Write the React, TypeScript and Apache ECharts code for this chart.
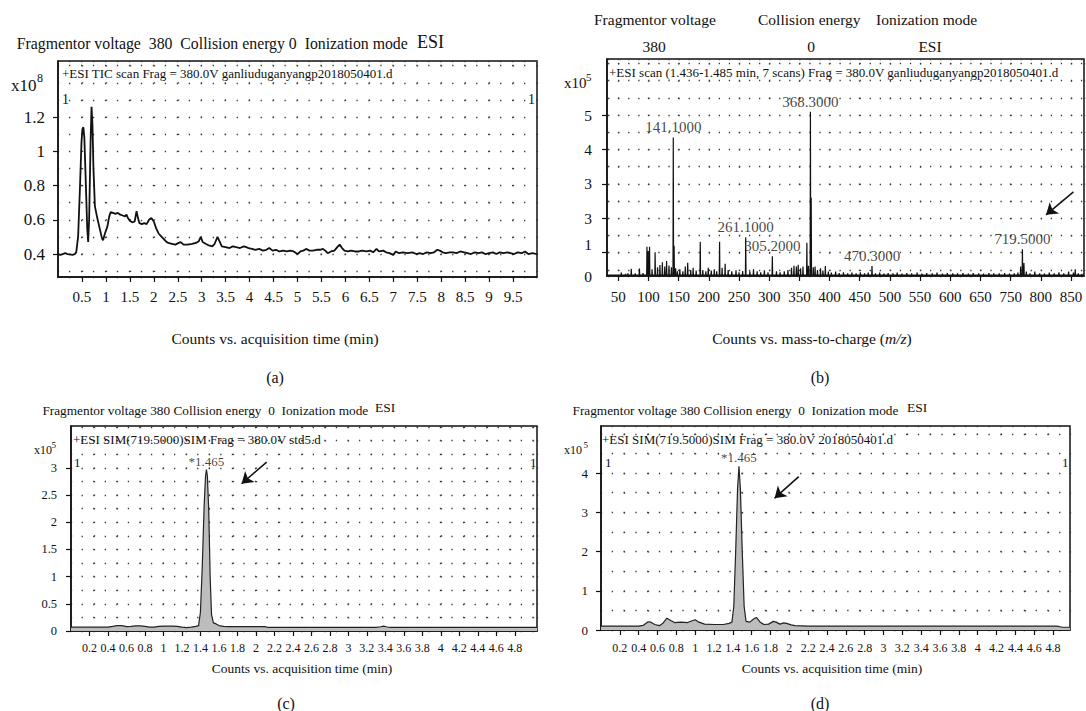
import React, { useEffect, useRef } from "react";
import * as echarts from "echarts";

const SERIF = '"Liberation Serif", "Times New Roman", serif';
const INK = "#111111";
const DOT = 1.3;
const DOT_COLOR = "#3a3a3a";

// ---------- (a) TIC chromatogram: [time (min), counts x10^8] ----------
const ticTrace = [
  [0, 0.4], [0.05, 0.395], [0.1, 0.4], [0.15, 0.405], [0.2, 0.4], [0.25, 0.398], [0.3, 0.395], [0.35, 0.4],
  [0.38, 0.41], [0.42, 0.5], [0.46, 0.8], [0.49, 1.05], [0.51, 1.13], [0.53, 1.14], [0.55, 1.08], [0.58, 0.82],
  [0.61, 0.55], [0.63, 0.47], [0.65, 0.6], [0.68, 1.05], [0.7, 1.26], [0.72, 1.15], [0.74, 0.9], [0.77, 0.68],
  [0.82, 0.61], [0.87, 0.55], [0.92, 0.49], [0.94, 0.48], [0.98, 0.52], [1.03, 0.56], [1.07, 0.62], [1.1, 0.645],
  [1.15, 0.64], [1.2, 0.635], [1.25, 0.64], [1.3, 0.63], [1.35, 0.625], [1.4, 0.62], [1.43, 0.63], [1.46, 0.61],
  [1.5, 0.595], [1.55, 0.585], [1.6, 0.59], [1.64, 0.65], [1.67, 0.61], [1.7, 0.58], [1.75, 0.575], [1.8, 0.58],
  [1.85, 0.575], [1.9, 0.6], [1.95, 0.61], [2, 0.59], [2.05, 0.55], [2.1, 0.52], [2.15, 0.505], [2.2, 0.49],
  [2.25, 0.475], [2.3, 0.465], [2.38, 0.46], [2.45, 0.455], [2.52, 0.465], [2.56, 0.47], [2.62, 0.455], [2.7, 0.455],
  [2.8, 0.46], [2.88, 0.465], [2.94, 0.475], [2.98, 0.5], [3.02, 0.47], [3.08, 0.46], [3.15, 0.45], [3.22, 0.445],
  [3.27, 0.46], [3.33, 0.5], [3.38, 0.47], [3.42, 0.445], [3.5, 0.44], [3.58, 0.435], [3.65, 0.445], [3.72, 0.44],
  [3.8, 0.435], [3.88, 0.445], [3.93, 0.44], [3.98, 0.435], [4.05, 0.43], [4.12, 0.425], [4.2, 0.43], [4.28, 0.42],
  [4.35, 0.425], [4.41, 0.435], [4.48, 0.42], [4.55, 0.425], [4.62, 0.415], [4.7, 0.42], [4.78, 0.415], [4.85, 0.42],
  [4.92, 0.415], [5, 0.4], [5.06, 0.415], [5.12, 0.42], [5.18, 0.43], [5.25, 0.42], [5.32, 0.42], [5.4, 0.425],
  [5.47, 0.425], [5.53, 0.43], [5.58, 0.42], [5.63, 0.405], [5.7, 0.415], [5.77, 0.42], [5.83, 0.44], [5.88, 0.455],
  [5.93, 0.435], [5.98, 0.42], [6.05, 0.415], [6.12, 0.42], [6.2, 0.415], [6.28, 0.415], [6.35, 0.42], [6.44, 0.415],
  [6.52, 0.42], [6.58, 0.41], [6.65, 0.43], [6.7, 0.415], [6.79, 0.42], [6.85, 0.41], [6.92, 0.405], [7, 0.395],
  [7.05, 0.415], [7.12, 0.405], [7.2, 0.41], [7.3, 0.405], [7.4, 0.41], [7.48, 0.4], [7.55, 0.405], [7.62, 0.4],
  [7.7, 0.41], [7.78, 0.405], [7.85, 0.41], [7.92, 0.425], [7.97, 0.42], [8.03, 0.41], [8.1, 0.405], [8.18, 0.41],
  [8.25, 0.41], [8.32, 0.405], [8.4, 0.415], [8.48, 0.41], [8.55, 0.405], [8.62, 0.4], [8.7, 0.41], [8.78, 0.405],
  [8.85, 0.41], [8.92, 0.4], [9, 0.405], [9.08, 0.41], [9.15, 0.4], [9.22, 0.41], [9.3, 0.405], [9.38, 0.41],
  [9.45, 0.405], [9.52, 0.4], [9.6, 0.41], [9.68, 0.405], [9.75, 0.415], [9.82, 0.4], [9.9, 0.405], [10, 0.4],
];

// ---------- (b) mass spectrum: [m/z, counts x10^5 on the printed scale] ----------
const specPeaks = [
  [55, 0.42], [62, 0.38], [66, 0.4], [71.5, 0.53], [78, 0.4], [85, 0.54], [91, 0.41], [97.5, 1.17], [99.5, 1.05],
  [101.8, 1.17], [106, 0.52], [111, 1.01], [115, 0.58], [119, 0.64], [123, 0.72], [127, 0.6], [130, 0.76], [134, 0.63],
  [138, 0.58], [141.1, 4.35], [142.5, 1.2], [145, 0.55], [148, 0.46], [152, 0.52], [157, 0.46], [161, 0.6], [165, 0.71],
  [170, 0.5], [174, 0.56], [179, 0.48], [185.8, 1.32], [190, 0.5], [195, 0.46], [199, 0.56], [204, 0.48], [209, 0.52],
  [213, 0.46], [217.8, 1.32], [222, 0.56], [227, 0.68], [232, 0.5], [238, 0.46], [245, 0.49], [250, 0.43], [256, 0.47],
  [261.1, 1.45], [268, 0.46], [274, 0.52], [280, 0.46], [286, 0.43], [292, 0.49], [298, 0.43], [305.2, 0.9], [312, 0.46],
  [318, 0.43], [325, 0.46], [331, 0.5], [337, 0.56], [341, 0.62], [345, 0.6], [348, 0.65], [352, 0.55], [356, 0.6],
  [362.4, 1.29], [365, 0.62], [368.3, 5.1], [369.6, 2.6], [373, 0.58], [376, 0.6], [380, 0.5], [385, 0.55], [389, 0.48],
  [393, 0.61], [398, 0.45], [403, 0.42], [410, 0.45], [416, 0.41], [423, 0.43], [430, 0.4], [437, 0.42], [444, 0.4],
  [451, 0.43], [458, 0.4], [464, 0.42], [470.3, 0.61], [476, 0.4], [483, 0.42], [490, 0.39], [497, 0.41], [505, 0.4],
  [512, 0.42], [520, 0.39], [528, 0.41], [536, 0.4], [545, 0.42], [553, 0.39], [561, 0.41], [570, 0.4], [578, 0.42],
  [587, 0.39], [595, 0.41], [604, 0.4], [612, 0.4], [621, 0.41], [630, 0.39], [638, 0.41], [647, 0.4], [655, 0.39],
  [664, 0.41], [672, 0.4], [681, 0.4], [690, 0.41], [698, 0.39], [706, 0.4], [712, 0.42], [716.5, 0.6], [719.5, 1.1],
  [722, 0.7], [726, 0.45], [732, 0.4], [740, 0.45], [748, 0.4], [756, 0.39], [764, 0.42], [772, 0.4], [780, 0.43],
  [788, 0.4], [796, 0.45], [804, 0.42], [807, 0.52], [812, 0.4], [818, 0.38],
];
const specBaseline = 0.35;
const labelledMz = [141.1, 261.1, 305.2, 368.3, 470.3, 719.5];
const labelledInt = [4.35, 1.45, 0.9, 5.1, 0.61, 1.1];

// ---------- (c) SIM of standard, (d) SIM of sample: [time, counts x10^5] ----------
const cTrace = [
  [0, 0.07], [0.1, 0.07], [0.2, 0.07], [0.3, 0.072], [0.4, 0.072], [0.45, 0.085], [0.5, 0.1], [0.55, 0.1],
  [0.6, 0.08], [0.65, 0.085], [0.7, 0.095], [0.75, 0.095], [0.8, 0.085], [0.85, 0.072], [0.9, 0.072], [0.95, 0.085],
  [1, 0.09], [1.1, 0.09], [1.15, 0.085], [1.2, 0.072], [1.25, 0.062], [1.3, 0.072], [1.35, 0.085], [1.38, 0.1],
  [1.4, 0.35], [1.42, 1.2], [1.44, 2.3], [1.455, 2.85], [1.465, 2.97], [1.475, 2.85], [1.49, 2.2], [1.505, 1.0],
  [1.52, 0.3], [1.54, 0.15], [1.57, 0.13], [1.6, 0.1], [1.65, 0.085], [1.7, 0.08], [1.8, 0.08], [1.9, 0.08],
  [2, 0.08], [2.1, 0.08], [2.13, 0.065], [2.5, 0.065], [3, 0.065], [3.3, 0.065], [3.35, 0.078], [3.38, 0.09],
  [3.41, 0.078], [3.45, 0.065], [4, 0.065], [4.5, 0.065], [5.04, 0.065],
];
const dTrace = [
  [0, 0.1], [0.2, 0.1], [0.4, 0.1], [0.45, 0.12], [0.5, 0.21], [0.53, 0.2], [0.57, 0.14], [0.62, 0.11], [0.66, 0.18],
  [0.7, 0.3], [0.74, 0.24], [0.78, 0.19], [0.85, 0.2], [0.92, 0.19], [0.96, 0.23], [1, 0.26], [1.04, 0.2], [1.1, 0.15],
  [1.2, 0.14], [1.3, 0.14], [1.36, 0.17], [1.39, 0.2], [1.41, 0.6], [1.43, 2.0], [1.45, 3.6], [1.465, 4.17],
  [1.48, 3.6], [1.5, 2.0], [1.52, 0.6], [1.54, 0.22], [1.58, 0.2], [1.62, 0.28], [1.65, 0.32], [1.69, 0.2],
  [1.73, 0.14], [1.78, 0.15], [1.83, 0.22], [1.86, 0.2], [1.9, 0.15], [1.94, 0.18], [1.97, 0.17], [2.02, 0.13],
  [2.06, 0.11], [2.2, 0.1], [3, 0.1], [4, 0.1], [4.82, 0.1], [4.86, 0.09], [4.9, 0.07], [4.98, 0.07],
];
const cPeak = [1.465, 2.97];
const dPeak = [1.465, 4.17];
const simPeakLabel = "*1.465";

// ---------- axis ranges ----------
const aXRange = [0, 10];
const aYRange = [0.266, 1.527];
const bXRange = [31.3, 821.5];
const bYRange = [0.323, 6.63];
const cXRange = [0, 5.04];
const cYRange = [0, 3.77];
const dXRange = [0, 4.98];
const dYRange = [0, 5.2];

// ---------- ticks and tick labels ----------
const aXTicks = [0.5, 1, 1.5, 2, 2.5, 3, 3.5, 4, 4.5, 5, 5.5, 6, 6.5, 7, 7.5, 8, 8.5, 9, 9.5];
const aYTicks = [0.4, 0.6, 0.8, 1, 1.2];
const bXTicks = [50, 100, 150, 200, 250, 300, 350, 400, 450, 500, 550, 600, 650, 700, 750, 800];
const bXLabels = ["50", "100", "150", "200", "250", "300", "350", "400", "450", "500", "550", "600", "650", "750", "800", "850"];
const bYTicks = [1, 2, 3, 4, 5];
const bYLabelValues = [0.323, 1.25, 2, 3, 4, 5];
const bYLabels = ["0", "1", "3", "3", "4", "5"];
const simXTicks = [0.2, 0.4, 0.6, 0.8, 1, 1.2, 1.4, 1.6, 1.8, 2, 2.2, 2.4, 2.6, 2.8, 3, 3.2, 3.4, 3.6, 3.8, 4, 4.2, 4.4, 4.6, 4.8];
const cYTicks = [0, 0.5, 1, 1.5, 2, 2.5, 3];
const dYTicks = [0, 1, 2, 3, 4];

// ---------- annotation arrows (data coordinates: tail, head) ----------
const bArrow = [[804, 2.77], [758.6, 2.1]];
const cArrow = [[2.116, 3.105], [1.845, 2.708]];
const dArrow = [[2.1, 3.91], [1.843, 3.36]];

// ---------- layout ----------
const GRIDS = [
  { left: 58, top: 61, width: 479, height: 216 },
  { left: 607, top: 59, width: 477, height: 217 },
  { left: 71, top: 426, width: 466, height: 205 },
  { left: 601, top: 426, width: 469, height: 204 },
];

const fmt = (v: number) => String(Math.round(v * 100) / 100);
const lookup = (vals: number[], texts: string[]) => (v: number) => {
  let best = -1;
  let bd = Infinity;
  vals.forEach((t, i) => {
    const d = Math.abs(t - v);
    if (d < bd) { bd = d; best = i; }
  });
  return bd < 1e-6 ? texts[best] : "";
};

function mainX(gi: number, r: number[], ticks: number[], labelVals: number[], labels: string[], fontSize: number, margin: number) {
  return {
    type: "value", gridIndex: gi, min: r[0], max: r[1], position: "bottom",
    axisLine: { show: true, onZero: false, lineStyle: { color: INK, width: 1.5 } },
    axisTick: { show: true, customValues: ticks, length: 5, lineStyle: { color: INK, width: 1.2 } },
    axisLabel: { show: true, customValues: labelVals, formatter: lookup(labelVals, labels), fontFamily: SERIF, fontSize, color: INK, margin },
    splitLine: { show: false },
  };
}
function mainY(gi: number, r: number[], ticks: number[], labelVals: number[], labels: string[], fontSize: number, margin: number) {
  return {
    type: "value", gridIndex: gi, min: r[0], max: r[1], position: "left",
    axisLine: { show: true, onZero: false, lineStyle: { color: INK, width: 1.5 } },
    axisTick: { show: true, customValues: ticks, length: 5, lineStyle: { color: INK, width: 1.2 } },
    axisLabel: { show: true, customValues: labelVals, formatter: lookup(labelVals, labels), fontFamily: SERIF, fontSize, color: INK, margin },
    splitLine: { show: false },
  };
}

function dotAxes(gi: number, xr: number[], yr: number[], xStep: number, yStep: number) {
  const g = GRIDS[gi];
  const pxX = g.width / (xr[1] - xr[0]);
  const pxY = g.height / (yr[1] - yr[0]);
  const colPx = xStep * pxX;
  const rowPx = yStep * pxY;
  const pRow = colPx / Math.max(1, Math.round(colPx / 12));
  const pCol = rowPx;
  const d0x = (Math.ceil(xr[0] / xStep - 1e-9) * xStep - xr[0]) * pxX;
  const d0y = (yr[1] - Math.floor(yr[1] / yStep + 1e-9) * yStep) * pxY;
  const off = (d: number, p: number) => (((p - ((d - DOT / 2) % p)) % p) + p) % p;
  const ticking = (r: number[], step: number) => {
    const k = r[0] / step;
    return Math.abs(k - Math.round(k)) < 1e-9 ? { interval: step } : { splitNumber: Math.round((r[1] - r[0]) / step) };
  };
  const hidden = { axisLine: { show: false }, axisTick: { show: false }, axisLabel: { show: false } };
  const x = {
    type: "value", gridIndex: gi, min: xr[0], max: xr[1], position: "top", ...ticking(xr, xStep), ...hidden,
    splitLine: { show: true, lineStyle: { color: DOT_COLOR, width: DOT, type: [DOT, pCol - DOT], dashOffset: off(d0y, pCol), cap: "butt" } },
  };
  const y = {
    type: "value", gridIndex: gi, min: yr[0], max: yr[1], position: "right", ...ticking(yr, yStep), ...hidden,
    splitLine: { show: true, lineStyle: { color: DOT_COLOR, width: DOT, type: [DOT, pRow - DOT], dashOffset: off(d0x, pRow), cap: "butt" } },
  };
  return { x, y };
}

function txt(x: number, y: number, text: string, fontSize: number, align = "left", extra: any = {}) {
  return {
    type: "text", x, y, silent: true, z: 10,
    style: { text, fontSize, fontFamily: SERIF, fill: INK, align, verticalAlign: "middle", ...extra },
  };
}

function arrowMark(a: number[][]) {
  return {
    silent: true, symbol: ["none", "arrow"], symbolSize: 11, animation: false,
    label: { show: false }, emphasis: { disabled: true },
    lineStyle: { color: INK, width: 1.5, type: "solid" },
    itemStyle: { color: INK },
    data: [[{ coord: a[0] }, { coord: a[1] }]],
  };
}

function buildOption() {
  const dA = dotAxes(0, aXRange, aYRange, 0.5, 0.1);
  const dB = dotAxes(1, bXRange, bYRange, 50, 0.5);
  const dC = dotAxes(2, cXRange, cYRange, 0.25, 0.25);
  const dD = dotAxes(3, dXRange, dYRange, 0.25, 0.5);

  const sticks = [...specPeaks].sort((p, q) => p[0] - q[0]);
  const specLine: number[][] = [[bXRange[0], specBaseline]];
  sticks.forEach(([m, h]) => {
    specLine.push([m - 0.5, specBaseline], [m, h], [m + 0.5, specBaseline]);
  });
  specLine.push([bXRange[1], specBaseline]);

  const labelScatter = (xi: number, pts: number[][], texts: string[], fontSize: number, distance: number) => ({
    type: "scatter", xAxisIndex: xi, yAxisIndex: xi, symbolSize: 1, silent: true, z: 6,
    itemStyle: { color: "transparent" },
    data: pts.map((p, i) => ({ value: p, label: { formatter: texts[i] } })),
    label: { show: true, position: "top", distance, fontFamily: SERIF, fontSize, color: INK },
  });

  return {
    animation: false,
    backgroundColor: "#ffffff",
    textStyle: { fontFamily: SERIF },
    grid: GRIDS.map((g) => ({ ...g, show: true, borderColor: INK, borderWidth: 1.5, backgroundColor: "transparent", containLabel: false, outerBoundsMode: "none" })),
    xAxis: [
      mainX(0, aXRange, aXTicks, aXTicks, aXTicks.map(fmt), 15, 12),
      mainX(1, bXRange, bXTicks, bXTicks, bXLabels, 15, 13),
      mainX(2, cXRange, simXTicks, simXTicks, simXTicks.map(fmt), 12, 11),
      mainX(3, dXRange, simXTicks, simXTicks, simXTicks.map(fmt), 12, 12),
      dA.x, dB.x, dC.x, dD.x,
    ],
    yAxis: [
      mainY(0, aYRange, aYTicks, aYTicks, aYTicks.map(fmt), 17, 13),
      mainY(1, bYRange, bYTicks, bYLabelValues, bYLabels, 15.5, 15),
      mainY(2, cYRange, cYTicks, cYTicks, cYTicks.map(fmt), 12.5, 14),
      mainY(3, dYRange, dYTicks, dYTicks, dYTicks.map(fmt), 13, 13),
      dA.y, dB.y, dC.y, dD.y,
    ],
    series: [
      {
        type: "line", xAxisIndex: 0, yAxisIndex: 0, data: ticTrace, showSymbol: false, symbol: "none",
        lineStyle: { color: INK, width: 1.8 }, z: 3,
      },
      {
        type: "line", xAxisIndex: 1, yAxisIndex: 1, data: specLine, showSymbol: false, symbol: "none",
        lineStyle: { color: INK, width: 1.2 }, z: 3, markLine: arrowMark(bArrow),
      },
      labelScatter(1, labelledMz.map((m, i) => [m, labelledInt[i]]), labelledMz.map((m) => m.toFixed(4)), 15, 2),
      {
        type: "line", xAxisIndex: 2, yAxisIndex: 2, data: cTrace, showSymbol: false, symbol: "none",
        lineStyle: { color: "#222", width: 1.2 }, areaStyle: { color: "#bdbdbd", opacity: 1 }, z: 3,
        markLine: arrowMark(cArrow),
      },
      labelScatter(2, [cPeak], [simPeakLabel], 13, 1.5),
      {
        type: "line", xAxisIndex: 3, yAxisIndex: 3, data: dTrace, showSymbol: false, symbol: "none",
        lineStyle: { color: "#222", width: 1.2 }, areaStyle: { color: "#bdbdbd", opacity: 1 }, z: 3,
        markLine: arrowMark(dArrow),
      },
      labelScatter(3, [dPeak], [simPeakLabel], 13, 1.5),
    ],
    graphic: {
      elements: [
        // (a)
        txt(16.7, 43, "Fragmentor voltage  380  Collision energy 0  Ionization mode", 15.8),
        txt(417, 41.5, "ESI", 18),
        txt(62, 73, "+ESI TIC scan Frag = 380.0V ganliuduganyangp2018050401.d", 13),
        txt(11, 85, "x10", 17),
        txt(37, 78, "8", 12),
        txt(62, 99, "1", 14),
        txt(528, 99, "1", 14),
        txt(275, 338, "Counts vs. acquisition time (min)", 15.5, "center"),
        txt(275, 377, "(a)", 16, "center"),
        // (b)
        txt(594, 19, "Fragmentor voltage", 15.5),
        txt(758, 19, "Collision energy", 15.5),
        txt(876, 19, "Ionization mode", 15.5),
        txt(654, 46, "380", 15.5, "center"),
        txt(811, 46, "0", 15.5, "center"),
        txt(930, 46, "ESI", 15.5, "center"),
        txt(609, 72, "+ESI scan (1.436-1.485 min, 7 scans) Frag = 380.0V ganliuduganyangp2018050401.d", 13),
        txt(564, 83, "x10", 15),
        txt(586, 77, "5", 11),
        txt(812, 338, "Counts vs. mass-to-charge ({i|m/z})", 15.5, "center", {
          rich: { i: { fontStyle: "italic", fontSize: 15.5, fontFamily: SERIF, fill: INK } },
        }),
        txt(820, 377, "(b)", 16, "center"),
        // (c)
        txt(42.4, 410, "Fragmentor voltage 380 Collision energy  0  Ionization mode", 13.3),
        txt(375, 407.5, "ESI", 13.5),
        txt(73, 439, "+ESI SIM(719.5000)SIM Frag = 380.0V std5.d", 13),
        txt(34, 450, "x10", 12),
        txt(51.5, 445, "5", 9),
        txt(74, 462, "1", 13),
        txt(530, 462, "1", 13),
        txt(302, 668, "Counts vs. acquisition time (min)", 13.5, "center"),
        txt(286, 703, "(c)", 16, "center"),
        // (d)
        txt(572.5, 410, "Fragmentor voltage 380 Collision energy  0  Ionization mode", 13.3),
        txt(907, 407.5, "ESI", 13.5),
        txt(602, 439, "+ESI SIM(719.5000)SIM Frag = 380.0V 2018050401.d", 13),
        txt(564, 450, "x10", 12),
        txt(583.5, 445, "5", 9),
        txt(605, 462, "1", 13),
        txt(1062, 462, "1", 13),
        txt(832, 668, "Counts vs. acquisition time (min)", 13.5, "center"),
        txt(820, 703, "(d)", 16, "center"),
      ],
    },
  };
}

export default function App() {
  const ref = useRef<HTMLDivElement>(null);
  useEffect(() => {
    const el = ref.current;
    if (!el) return;
    const chart = echarts.init(el, null, { renderer: "svg" });
    chart.setOption(buildOption() as any);
    return () => chart.dispose();
  }, []);
  return (
    <div
      ref={ref}
      style={{ position: "fixed", left: 0, top: 0, width: 1086, height: 711, background: "#fff" }}
    />
  );
}
